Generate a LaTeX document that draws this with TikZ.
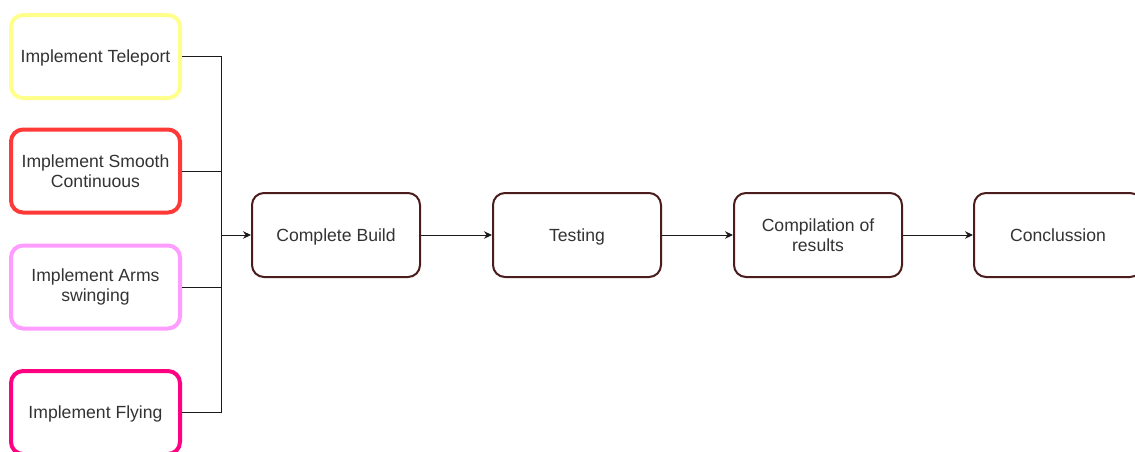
\documentclass[tikz,border=0pt]{standalone}
\usepackage{fontspec}
\setmainfont{Liberation Sans}
\usetikzlibrary{arrows.meta}
\definecolor{tele}{HTML}{FFFF8C}
\definecolor{smooth}{HTML}{FF3838}
\definecolor{arms}{HTML}{FF9CFF}
\definecolor{fly}{HTML}{FF0080}
\definecolor{stage}{HTML}{4A1C1C}
\definecolor{ink}{HTML}{333333}
\definecolor{wire}{HTML}{1A1A1A}
\tikzset{
  task/.style={rectangle, rounded corners=12pt, line width=4pt, fill=white,
    minimum width=169pt, minimum height=83pt, align=center, text=ink,
    font=\fontsize{17.6}{20.5}\selectfont, inner sep=2pt},
  stagebox/.style={rectangle, rounded corners=12pt, line width=2pt, draw=stage, fill=white,
    minimum width=168pt, minimum height=84pt, align=center, text=ink,
    font=\fontsize{17.6}{20.5}\selectfont, inner sep=2pt},
  % single-line labels: centre the capitals on the box
  oneline/.style={text height=12.7pt, text depth=0pt},
  wireline/.style={draw=wire, line width=1pt},
  flow/.style={wireline, -{Stealth[length=8pt,width=7.5pt]}}
}
\begin{document}
\begin{tikzpicture}[x=1pt,y=-1pt]
\useasboundingbox (0,0) rectangle (1135,451);
\clip (0,0) rectangle (1135,451);
\fill[white] (0,0) rectangle (1135,451);

% implementation tasks
\node[task, oneline, draw=tele] (tele)   at (95.5,56.5) {Implement Teleport};
\node[task, draw=smooth]        (smooth) at (95.5,171) {Implement Smooth\\Continuous};
\node[task, draw=arms]          (arms)   at (95.5,287)   {Implement Arms\\swinging};
\node[task, oneline, draw=fly]  (fly)    at (95.5,412.5) {Implement Flying};

% main stages
\node[stagebox, oneline] (build)   at (336,235)  {Complete Build};
\node[stagebox, oneline] (testing) at (577,235)  {Testing};
\node[stagebox]          (results) at (818,235)  {Compilation of\\results};
\node[stagebox, oneline] (concl)   at (1058,235) {Conclussion};

% merge of the tasks into the build
\coordinate (merge) at (221,235);
\draw[wireline] (tele.east) -| (merge);
\draw[wireline] (smooth.east) -| (merge);
\draw[wireline] (arms.east) -| (merge);
\draw[wireline] (fly.east) -| (merge);
\draw[flow] (merge) -- (build.west);

% stage sequence
\draw[flow] (build.east) -- (testing.west);
\draw[flow] (testing.east) -- (results.west);
\draw[flow] (results.east) -- (concl.west);
\end{tikzpicture}
\end{document}
